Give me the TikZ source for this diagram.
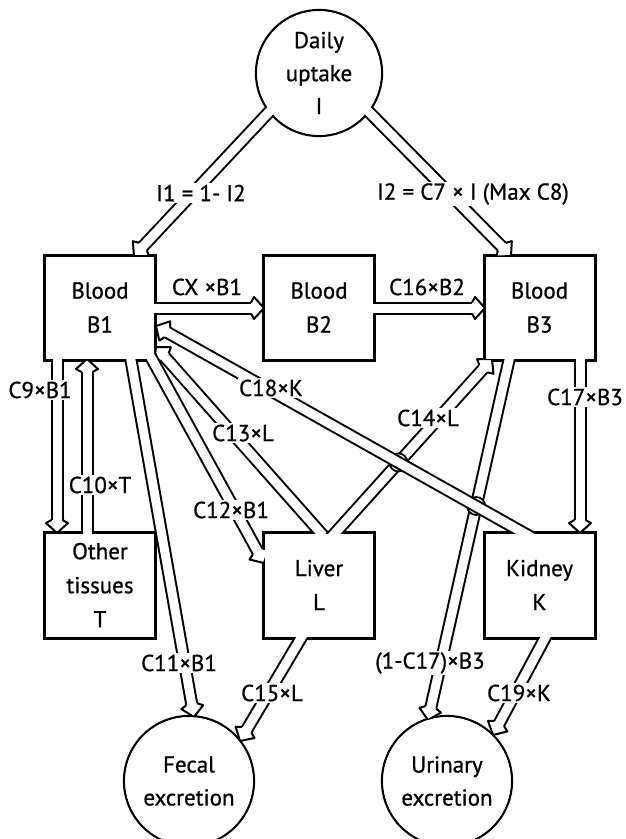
\documentclass[tikz,border=0pt]{standalone}
\usepackage{fontspec}
\setmainfont{PT Sans}[UprightFeatures={FakeBold=0.8}]
\usetikzlibrary{calc}
\tikzset{
  pipeline/.style={draw=black, line width=2pt, double=white, double distance=9pt},
  pipehead/.style={draw=black, fill=white, line width=2pt, line join=round},
  hop/.style={draw=black, fill=white, line width=1.8pt},
  boxborder/.style={draw=black, line width=3pt, rectangle, minimum width=111pt, minimum height=105pt, inner sep=0pt},
  boxinner/.style={fill=white, rectangle, minimum width=108pt, minimum height=102pt, inner sep=0pt, align=center, font=\fontsize{23}{34}\selectfont},
  circborder/.style={draw=black, line width=2.2pt, circle, inner sep=0pt},
  circinner/.style={fill=white, circle, inner sep=0pt, align=center, font=\fontsize{23}{33}\selectfont},
  flowlabel/.style={fill=white, inner sep=1.5pt, font=\fontsize{23}{28}\selectfont}
}
\newcommand\pipe[2]{%
  \draw[pipeline] ($(#1)!-16pt!(#2)$) -- ($(#2)!13pt!(#1)$);
  \pgfmathanglebetweenpoints{\pgfpointanchor{#1}{center}}{\pgfpointanchor{#2}{center}}%
  \edef\pipeang{\pgfmathresult}%
  \draw[pipehead, shift={(#2)}, rotate=\pipeang] (-13pt,5.5pt) -- (-10pt,11pt) -- (0pt,0pt) -- (-10pt,-11pt) -- (-13pt,-5.5pt);
}
\begin{document}
\begin{tikzpicture}[x=1pt, y=-1pt]
\useasboundingbox (0,0) rectangle (625,839);
% borders
\node[circborder, minimum size=126pt] (Df) at (319,73) {};
\node[boxborder] (B1f) at (100,307.5) {};
\node[boxborder] (B2f) at (319,307.5) {};
\node[boxborder] (B3f) at (539.5,307.5) {};
\node[boxborder, minimum height=106pt] (Tf) at (100,585) {};
\node[boxborder, minimum height=106pt] (Lf) at (319,585) {};
\node[boxborder, minimum height=106pt] (Kf) at (539.5,585) {};
\node[circborder, minimum size=130pt] (Ff) at (189,781) {};
\node[circborder, minimum size=130pt] (Uf) at (447,781) {};
% connector ends
\coordinate (i1s) at (269,112);   \coordinate (i1t) at (134,256);
\coordinate (i2s) at (369,112);   \coordinate (i2t) at (511,256);
\coordinate (cxs) at (155.5,308); \coordinate (cxt) at (264,308);
\coordinate (c16s) at (374.5,308);\coordinate (c16t) at (485,308);
\coordinate (c9s) at (57,360);    \coordinate (c9t) at (57,533);
\coordinate (c10s) at (87,532);   \coordinate (c10t) at (87,359);
\coordinate (c17s) at (580,360);  \coordinate (c17t) at (580,533);
\coordinate (c11s) at (131,360);  \coordinate (c11t) at (194,717);
\coordinate (c12s) at (153,361);  \coordinate (c12t) at (264,563);
\coordinate (c13s) at (320,532);  \coordinate (c13t) at (156,347);
\coordinate (c14s) at (336,532);  \coordinate (c14t) at (492,359);
\coordinate (c18s) at (522,532);  \coordinate (c18t) at (156,326);
\coordinate (u1s) at (509,360);   \coordinate (u1t) at (428,720);
\coordinate (c15s) at (301,638);  \coordinate (c15t) at (240,741);
\coordinate (c19s) at (545,638);  \coordinate (c19t) at (493,735);
\coordinate (x1) at (398.4,462.4);
\coordinate (x2) at (476.2,506.0);
% connectors
\pipe{i1s}{i1t}
\pipe{i2s}{i2t}
\pipe{cxs}{cxt}
\pipe{c16s}{c16t}
\pipe{c9s}{c9t}
\pipe{c10s}{c10t}
\pipe{c17s}{c17t}
\pipe{c11s}{c11t}
\pipe{c13s}{c13t}
\pipe{c12s}{c12t}
\pipe{c14s}{c14t}
\pipe{u1s}{u1t}
\pipe{c15s}{c15t}
\pipe{c19s}{c19t}
% hops where C18 crosses
\draw[hop] (x1) circle (9pt);
\draw[hop] (x2) circle (9pt);
\pipe{c18s}{c18t}
% interiors with text
\node[circinner, minimum size=123.5pt] (D) at (319,73) {Daily\\uptake\\I};
\node[boxinner] (B1) at (100,307.5) {Blood\\B1};
\node[boxinner] (B2) at (319,307.5) {Blood\\B2};
\node[boxinner] (B3) at (539.5,307.5) {Blood\\B3};
\node[boxinner, minimum height=103pt] (T) at (100,585) {Other\\tissues\\T};
\node[boxinner, minimum height=103pt] (L) at (319,585) {Liver\\L};
\node[boxinner, minimum height=103pt] (K) at (539.5,585) {Kidney\\K};
\node[circinner, minimum size=127.5pt] (F) at (189,781) {Fecal\\excretion};
\node[circinner, minimum size=127.5pt] (U) at (447,781) {Urinary\\excretion};
% labels
\node[flowlabel] (l1) at (201,193) {I1 = 1- I2};
\node[flowlabel] (l2) at (473,194) {I2 = C7 × I (Max C8)};
\node[flowlabel] (l3) at (207,287) {CX ×B1};
\node[flowlabel] (l4) at (427,287) {C16×B2};
\node[flowlabel] (l5) at (40,390) {C9×B1};
\node[flowlabel] (l6) at (100,485) {C10×T};
\node[flowlabel] (l7) at (585,397) {C17×B3};
\node[flowlabel] (l8) at (271,388) {C18×K};
\node[flowlabel] (l9) at (243,433) {C13×L};
\node[flowlabel] (l10) at (428,418) {C14×L};
\node[flowlabel] (l11) at (231,510) {C12×B1};
\node[flowlabel] (l12) at (179,663) {C11×B1};
\node[flowlabel] (l13) at (272,693) {C15×L};
\node[flowlabel] (l14) at (430,663) {(1-C17)×B3};
\node[flowlabel] (l15) at (519,693) {C19×K};
\end{tikzpicture}
\end{document}
